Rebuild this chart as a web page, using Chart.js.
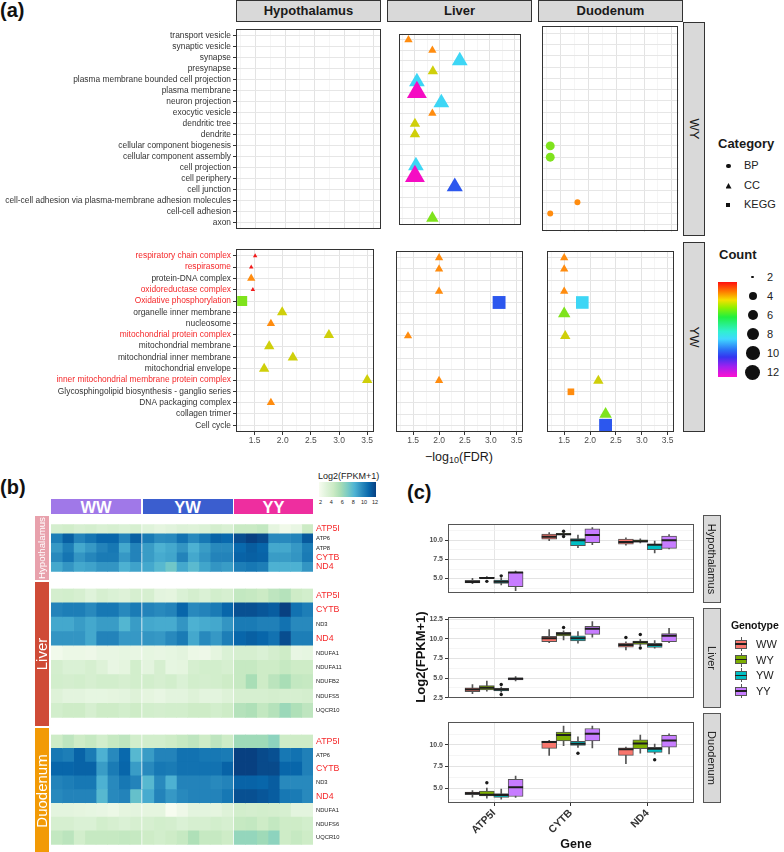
<!DOCTYPE html>
<html><head><meta charset="utf-8">
<script src="https://cdn.jsdelivr.net/npm/chart.js@4.4.1/dist/chart.umd.min.js"></script>
<style>
html,body{margin:0;padding:0;background:#fff;}
#root{position:relative;width:784px;height:852px;overflow:hidden;font-family:"Liberation Sans",Arial,Helvetica,sans-serif;color:#1a1a1a;}
</style></head><body><div id="root"></div>
<script>
// ================= DATA: panel (a) =================
const aTissues = ['Hypothalamus', 'Liver', 'Duodenum'];
const aRowsNames = ['WY', 'YW'];
const wyTerms = ['transport vesicle','synaptic vesicle','synapse','presynapse','plasma membrane bounded cell projection','plasma membrane','neuron projection','exocytic vesicle','dendritic tree','dendrite','cellular component biogenesis','cellular component assembly','cell projection','cell periphery','cell junction','cell-cell adhesion via plasma-membrane adhesion molecules','cell-cell adhesion','axon'];
const ywTerms = ['respiratory chain complex','respirasome','protein-DNA complex','oxidoreductase complex','Oxidative phosphorylation','organelle inner membrane','nucleosome','mitochondrial protein complex','mitochondrial membrane','mitochondrial inner membrane','mitochondrial envelope','inner mitochondrial membrane protein complex','Glycosphingolipid biosynthesis - ganglio series','DNA packaging complex','collagen trimer','Cell cycle'];
const redTerms = ['respiratory chain complex','respirasome','oxidoreductase complex','Oxidative phosphorylation','mitochondrial protein complex','inner mitochondrial membrane protein complex'];
// [term, -log10(FDR), Count, Category]
const wyHypothalamus = [];
const wyLiver = [
 ['transport vesicle',1.37,3,'CC'],['synaptic vesicle',1.85,3,'CC'],['synapse',2.40,8,'CC'],
 ['presynapse',1.86,5,'CC'],['plasma membrane bounded cell projection',1.54,8,'CC'],['plasma membrane',1.54,12,'CC'],
 ['neuron projection',2.03,8,'CC'],['exocytic vesicle',1.85,3,'CC'],['dendritic tree',1.50,5,'CC'],
 ['dendrite',1.50,5,'CC'],['cell projection',1.52,8,'CC'],['cell periphery',1.50,12,'CC'],
 ['cell junction',2.30,10,'CC'],['axon',1.85,6,'CC']
];
const wyDuodenum = [
 ['cellular component biogenesis',1.31,6,'BP'],['cellular component assembly',1.31,6,'BP'],
 ['cell-cell adhesion via plasma-membrane adhesion molecules',1.80,3,'BP'],['cell-cell adhesion',1.31,3,'BP']
];
const ywHypothalamus = [
 ['respiratory chain complex',1.51,2,'CC'],['respirasome',1.44,2,'CC'],['protein-DNA complex',1.44,3,'CC'],
 ['oxidoreductase complex',1.47,2,'CC'],['Oxidative phosphorylation',1.28,6,'KEGG'],['organelle inner membrane',1.99,5,'CC'],
 ['nucleosome',1.79,3,'CC'],['mitochondrial protein complex',2.82,5,'CC'],['mitochondrial membrane',1.76,5,'CC'],
 ['mitochondrial inner membrane',2.18,5,'CC'],['mitochondrial envelope',1.67,5,'CC'],
 ['inner mitochondrial membrane protein complex',3.50,5,'CC'],['DNA packaging complex',1.79,3,'CC']
];
const ywLiver = [
 ['respiratory chain complex',2.0,3,'CC'],['respirasome',2.0,3,'CC'],['oxidoreductase complex',2.0,3,'CC'],
 ['Oxidative phosphorylation',3.16,10,'KEGG'],['mitochondrial protein complex',1.40,3,'CC'],
 ['inner mitochondrial membrane protein complex',2.0,3,'CC']
];
const ywDuodenum = [
 ['respiratory chain complex',1.5,3,'CC'],['respirasome',1.5,3,'CC'],['oxidoreductase complex',1.5,3,'CC'],
 ['Oxidative phosphorylation',1.85,8,'KEGG'],['organelle inner membrane',1.5,6,'CC'],['mitochondrial protein complex',1.52,5,'CC'],
 ['inner mitochondrial membrane protein complex',2.16,5,'CC'],['Glycosphingolipid biosynthesis - ganglio series',1.63,3,'KEGG'],
 ['collagen trimer',2.30,6,'CC'],['Cell cycle',2.30,10,'KEGG']
];
const aXTicks = [1.25,1.5,1.75,2.0,2.25,2.5,2.75,3.0,3.25,3.5];
const countLegend = [2,4,6,8,10,12];

// ================= DATA: panel (b) heatmap =================
const hmGroups = ['WW','YW','YY'];
const hmGroupSizes = [8,8,7];
const redGenes = ['ATP5I','CYTB','ND4'];
const hypGenes = ['ATP5I','ATP6','ATP8','CYTB','ND4'];
const hypExpr = [
 [4.0,4.2,3.8,4.0,3.7,3.9,3.6,3.9, 3.3,3.0,3.2,3.5,3.4,3.6,4.0,3.7, 4.6,4.6,4.8,3.0,2.4,2.8,4.5],
 [10.0,11.0,9.8,10.3,10.8,10.8,9.8,11.0, 10.1,9.5,9.6,10.4,9.6,10.2,10.9,10.7, 11.6,12.0,11.7,9.6,9.6,9.8,11.2],
 [9.1,10.0,8.6,9.1,9.8,10.2,8.6,9.8, 9.0,8.3,8.6,9.2,8.3,9.0,9.6,9.6, 10.7,11.1,10.8,8.6,8.6,9.1,10.0],
 [9.6,10.3,9.2,9.7,10.1,10.1,9.1,9.8, 9.0,8.5,8.7,9.8,8.6,9.2,9.8,9.8, 10.9,11.0,10.9,9.0,9.0,9.2,10.1],
 [8.6,9.2,8.6,8.8,9.2,9.2,8.3,8.8, 8.6,8.0,7.3,8.6,7.9,8.7,9.2,9.0, 10.0,10.2,10.0,8.3,8.3,8.3,9.2]
];
const liverGenes = ['ATP5I','CYTB','ND3','ND4','NDUFA1','NDUFA11','NDUFB2','NDUFS5','UQCR10'];
const liverExpr = [
 [4.0,4.1,3.9,3.3,3.9,3.6,3.4,3.9, 3.9,3.1,3.0,3.6,4.0,3.6,4.1,3.9, 4.8,4.7,4.5,5.0,5.3,4.4,4.1],
 [9.8,10.0,10.0,9.6,10.2,10.2,9.6,10.1, 9.8,9.6,9.8,10.8,9.6,9.8,10.1,10.8, 11.5,11.5,11.3,11.1,12.0,10.4,10.0],
 [8.6,8.6,9.0,8.6,9.0,9.0,8.1,9.0, 8.6,8.5,8.5,9.2,8.3,8.5,8.6,9.2, 10.1,10.1,9.9,9.9,10.4,9.6,9.6],
 [9.2,9.2,9.2,8.6,9.8,9.8,9.1,9.1, 9.2,9.1,9.6,10.1,8.6,9.6,9.1,10.0, 10.8,11.0,10.8,10.4,11.6,10.0,10.0],
 [2.3,2.6,2.6,2.5,2.8,2.8,2.9,2.8, 2.9,2.8,2.9,3.1,2.6,2.5,3.0,3.6, 3.9,3.9,3.6,4.0,4.4,2.8,2.9],
 [4.0,3.6,3.6,3.9,3.4,2.8,3.0,4.1, 3.1,3.9,2.9,3.0,3.9,4.1,4.1,3.9, 4.7,4.7,4.4,4.4,4.7,4.4,4.4],
 [4.1,4.0,4.1,3.9,4.1,4.1,3.9,4.1, 4.1,3.9,4.1,3.6,4.1,4.0,4.1,4.4, 4.7,5.7,4.4,5.1,5.7,4.8,4.7],
 [3.4,3.1,3.1,2.9,2.9,3.0,3.1,3.4, 3.0,2.8,3.1,3.1,3.4,3.1,3.1,3.4, 3.9,3.9,3.9,4.0,3.9,3.9,4.0],
 [4.1,4.4,4.4,3.9,4.4,4.4,4.1,4.4, 4.1,4.0,4.1,4.1,4.4,4.4,4.1,4.4, 5.3,5.5,4.8,5.3,6.1,5.5,5.0]
];
const duoGenes = ['ATP5I','ATP6','CYTB','ND3','ND4','NDUFA1','NDUFS6','UQCR10'];
const duoExpr = [
 [4.4,5.0,4.4,4.7,4.1,4.7,5.0,4.1, 4.1,4.1,4.4,4.7,5.0,4.4,5.0,4.4, 6.0,6.0,6.0,6.5,4.4,4.4,4.4],
 [10.2,10.0,10.9,10.1,8.3,9.6,10.7,8.0, 9.0,9.8,9.8,10.4,10.4,10.2,10.2,10.1, 12.0,12.0,11.7,11.5,10.2,10.4,9.9],
 [10.8,10.8,10.9,10.9,9.0,10.1,10.8,9.0, 9.6,10.2,10.1,10.4,10.4,10.4,10.4,10.9, 12.0,12.0,11.7,11.7,10.8,10.8,9.9],
 [9.8,10.0,10.2,10.2,8.3,9.6,10.2,9.8, 8.0,9.6,8.3,9.8,9.8,9.8,9.6,9.8, 10.9,10.9,10.8,11.1,9.6,9.6,9.6],
 [9.6,9.8,9.8,9.8,8.0,9.6,9.8,7.6, 8.5,9.8,9.1,9.6,9.8,9.8,9.8,10.2, 11.5,11.5,11.3,11.1,10.2,10.1,9.6],
 [3.1,3.1,3.0,2.9,2.8,2.6,3.0,3.1, 3.0,3.0,2.0,2.5,3.1,3.1,3.0,3.4, 4.1,4.0,4.1,4.0,3.9,3.1,3.1],
 [3.9,3.9,3.6,3.6,4.1,3.9,3.6,3.9, 3.9,4.1,4.0,3.6,3.9,3.9,4.1,3.9, 4.7,4.8,4.4,4.8,4.4,4.4,4.1],
 [4.8,5.1,4.1,4.7,4.7,4.7,4.8,4.7, 4.4,4.1,4.4,4.7,5.5,4.7,4.7,4.4, 6.3,6.3,6.0,6.5,4.4,4.7,4.4]
];
const hmLegendTicks = [2,4,6,8,10,12];

// ================= DATA: panel (c) boxplots =================
const boxGenes = ['ATP5I','CYTB','ND4'];
const genotypes = ['WW','WY','YW','YY'];
// [min, q1, median, q3, max]; order: ATP5I WW,WY,YW,YY, CYTB WW..YY, ND4 WW..YY
const hypBox = [
 [4.32,4.42,4.56,4.77,5.01],[4.97,5.02,5.08,5.15,5.25],[4.15,4.35,4.59,4.80,5.08],[3.42,3.94,5.80,5.83,5.99],
 [9.97,10.17,10.48,10.83,11.03],[10.65,10.72,10.83,10.93,10.99],[9.04,9.31,10.03,10.24,10.72],[9.45,9.72,10.72,11.52,11.69],
 [9.38,9.52,9.79,10.17,10.34],[9.69,9.76,9.90,10.07,10.20],[8.35,8.79,9.45,9.52,9.93],[8.90,8.97,10.03,10.59,10.76]
];
const hypOut = [[0,1,4.63],[0,2,5.35],[1,1,11.20],[1,1,10.52]]; // [gene, genotype, value]
const liverBox = [
 [3.02,3.26,3.54,3.77,4.19],[3.33,3.49,3.77,4.05,4.63],[3.20,3.36,3.54,3.70,3.85],[4.63,4.77,4.91,5.04,5.19],
 [9.52,9.62,10.06,10.30,11.16],[9.86,10.37,10.65,10.81,11.00],[9.44,9.72,10.06,10.37,10.92],[10.20,10.55,11.27,11.58,12.20],
 [8.59,8.93,9.20,9.44,9.60],[9.10,9.27,9.55,9.72,9.90],[8.82,8.90,9.20,9.41,9.78],[9.52,9.62,10.37,10.65,11.33]
];
const liverOut = [[0,2,4.19],[0,2,2.92],[1,1,11.43],[2,0,10.16],[2,1,10.55],[2,1,8.82]];
const duoBox = [
 [3.98,4.26,4.43,4.57,4.74],[3.85,4.12,4.26,4.67,5.01],[3.74,3.95,4.23,4.39,4.91],[3.95,4.05,5.11,6.04,6.39],
 [8.79,9.59,10.34,10.44,10.52],[9.90,10.44,11.13,11.47,12.16],[9.70,9.93,10.13,10.41,10.93],[9.65,10.44,11.27,11.89,12.16],
 [7.84,8.79,9.48,9.65,9.75],[9.03,9.55,10.16,10.58,11.13],[8.97,9.13,9.55,9.72,10.10],[8.97,9.72,10.51,11.09,11.27]
];
const duoOut = [[0,1,5.63],[1,2,9.03],[2,2,8.28]];
const hypYTicks = [5, 7.5, 10];
const liverYTicks = [2.5, 5, 7.5, 10, 12.5];
const duoYTicks = [5, 7.5, 10];

// ================= STYLE =================
Chart.defaults.font.family = '"Liberation Sans", Arial, Helvetica, sans-serif';
const RED = '#f5282a';
const countColor = {2:'#f21b1b',3:'#ff8c0f',4:'#f0b400',5:'#cfcf0a',6:'#7fe31c',8:'#3dd6f5',10:'#2c57ee',12:'#f50cc3'};
const triR = {2:2.6,3:4.8,4:5.4,5:6.0,6:7.2,8:9.1,10:9.3,12:11.5};
const shapeOf = {BP:'circle', CC:'triangle', KEGG:'rect'};
function radiusOf(raw){ const r = triR[raw.count]; return raw.cat==='BP' ? r*0.62 : (raw.cat==='KEGG' ? r*0.98 : r); }
const gnbuStops = ['#f7fcf0','#e0f3db','#ccebc5','#a8ddb5','#7bccc4','#4eb3d3','#2b8cbe','#0868ac','#084081'];
function hex2rgb(h){ return [parseInt(h.substr(1,2),16),parseInt(h.substr(3,2),16),parseInt(h.substr(5,2),16)]; }
function gnbu(v){ let t = (v-2)/10*(gnbuStops.length-1); t = Math.max(0, Math.min(gnbuStops.length-1, t)); const i = Math.min(Math.floor(t), gnbuStops.length-2); const f = t-i; const a = hex2rgb(gnbuStops[i]), b = hex2rgb(gnbuStops[i+1]); return `rgb(${Math.round(a[0]+(b[0]-a[0])*f)},${Math.round(a[1]+(b[1]-a[1])*f)},${Math.round(a[2]+(b[2]-a[2])*f)})`; }
const genoColors = ['#F8766D','#7CAE00','#00BFC4','#C77CFF'];

const root = document.getElementById('root');
function div(style, html){ const d=document.createElement('div'); d.style.cssText='position:absolute;'+style; if(html!==undefined) d.innerHTML=html; root.appendChild(d); return d; }
function canvas(left, top, w, h){ const c=document.createElement('canvas'); c.width=w; c.height=h; c.style.cssText=`position:absolute;left:${left}px;top:${top}px;width:${w}px;height:${h}px;`; root.appendChild(c); return c; }
function rotText(cx, cy, text, deg, style){ const w=300; div(`left:${cx-w/2}px;top:${cy-10}px;width:${w}px;height:20px;line-height:20px;text-align:center;white-space:nowrap;transform:rotate(${deg}deg);${style}`, text); }

const panelBorder = { id:'panelBorder', afterDraw(chart, args, opts){ if(!opts || !opts.color) return; const a=chart.chartArea; const c=chart.ctx; c.save(); c.strokeStyle=opts.color; c.lineWidth=1; c.strokeRect(Math.round(a.left)+0.5, Math.round(a.top)+0.5, Math.round(a.right-a.left)-1, Math.round(a.bottom-a.top)-1); c.restore(); } };
const base = { responsive:false, animation:false, devicePixelRatio:1, layout:{padding:0}, events:[] };
const isHalf = v => Math.abs(v*2-Math.round(v*2)) < 1e-6;

// ================= PANEL (a) =================
const aCols = [{left:0,w:381,yw:236,area:236},{left:387,w:145,yw:0,area:387},{left:538,w:145,yw:0,area:538}];
const aRows = [{top:22,h:214,terms:wyTerms,data:[wyHypothalamus,wyLiver,wyDuodenum],showX:false},
               {top:242,h:190,terms:ywTerms,data:[ywHypothalamus,ywLiver,ywDuodenum],showX:true}];
aRows.forEach(row => {
  aCols.forEach((col, ci) => {
    const showY = ci===0, showX = row.showX, terms = row.terms;
    const cv = canvas(col.left, row.top, col.w, row.h + (showX?16:0));
    new Chart(cv, { type:'scatter',
      data:{ datasets:[{ data: row.data[ci].map(p => ({x:p[1], y:terms.indexOf(p[0]), count:p[2], cat:p[3]})),
        pointStyle: c => c.raw ? shapeOf[c.raw.cat] : 'circle',
        radius: c => c.raw ? radiusOf(c.raw) : 3,
        backgroundColor: c => c.raw ? countColor[c.raw.count] : '#000',
        borderWidth:0, clip:false }]},
      options: Object.assign({}, base, {
        plugins:{ legend:{display:false}, tooltip:{enabled:false}, panelBorder:{color:'#333'} },
        scales:{
          x:{ type:'linear', min:1.17, max:3.62,
              afterBuildTicks: s => { s.ticks = aXTicks.map(v => ({value:v})); },
              ticks:{ display:showX, autoSkip:false, maxRotation:0, padding:1, color:'#4d4d4d', font:{size:8.5}, callback: v => isHalf(v) ? v.toFixed(1) : '' },
              grid:{ color: c => (c.tick && isHalf(c.tick.value)) ? '#e3e3e3' : '#f0f0f0', lineWidth: c => (c.tick && isHalf(c.tick.value)) ? 1 : 0.7, drawTicks:showX, tickLength:3, tickColor: c => (c.tick && isHalf(c.tick.value)) ? '#333' : 'rgba(0,0,0,0)' },
              border:{display:false},
              afterFit: s => { s.height = showX ? 16 : 0; } },
          y:{ type:'linear', reverse:true, min:-0.6, max:terms.length-1+0.6,
              afterBuildTicks: s => { s.ticks = terms.map((t,i) => ({value:i})); },
              ticks:{ display:showY, autoSkip:false, padding:2, font:{size:8.4}, callback: v => terms[v],
                      color: c => (c.tick && redTerms.includes(terms[c.tick.value])) ? RED : '#333' },
              grid:{ color:'#e6e6e6', lineWidth:1, drawTicks:showY, tickLength:3, tickColor:'#333' },
              border:{display:false},
              afterFit: s => { s.width = showY ? col.yw : 0; } }
        }
      }),
      plugins:[panelBorder] });
  });
});
// strips (a)
aTissues.forEach((t,i) => div(`left:${aCols[i].area}px;top:0px;width:145px;height:22px;background:#d9d9d9;border:1px solid #333;box-sizing:border-box;text-align:center;line-height:20px;font-size:13px;font-weight:bold;color:#1a1a1a;`, t));
aRows.forEach((r,i) => { div(`left:683px;top:${r.top}px;width:22px;height:${r.h}px;background:#d9d9d9;border:1px solid #333;box-sizing:border-box;`); rotText(694, r.top + r.h/2, aRowsNames[i], 90, 'font-size:13px;color:#1a1a1a;'); });
div('left:0px;top:-1px;font-size:20px;font-weight:bold;color:#111;', '(a)');
div('left:359px;top:450px;width:200px;text-align:center;font-size:12.5px;color:#1a1a1a;', '&minus;log<sub style="font-size:9px;vertical-align:-2px;">10</sub>(FDR)');
// Category legend
div('left:718px;top:136px;font-size:13px;font-weight:bold;', 'Category');
div('left:726px;top:163.8px;width:4.5px;height:4.5px;border-radius:50%;background:#111;');
div('left:725.5px;top:183px;width:6px;height:5.5px;background:#111;clip-path:polygon(50% 0,100% 100%,0 100%);');
div('left:726.2px;top:203px;width:4.3px;height:4.3px;background:#111;');
['BP','CC','KEGG'].forEach((t,i) => div(`left:744px;top:${159+i*19.5}px;font-size:11px;color:#222;`, t));
// Count legend
div('left:719px;top:247px;font-size:13px;font-weight:bold;', 'Count');
div('left:717.7px;top:281.7px;width:19px;height:95px;background:linear-gradient(to bottom,#ff1010 0%,#ff7a00 10%,#f5e000 19%,#90f000 27%,#20f040 37%,#30f0d0 52%,#40d8ff 60%,#2a6cf5 72%,#3535f0 79%,#a020f0 89%,#ff10d0 100%);');
const dotD = {2:2.7,4:8.3,6:10,8:12,10:13.7,12:15};
countLegend.forEach((c,i) => { const y = 277 + i*19, d = dotD[c]; div(`left:${752.7-d/2}px;top:${y-d/2}px;width:${d}px;height:${d}px;border-radius:50%;background:#111;`); div(`left:767px;top:${y-7}px;font-size:11px;color:#222;line-height:14px;`, String(c)); });

// ================= PANEL (b) heatmap =================
div('left:0px;top:476px;font-size:20px;font-weight:bold;color:#111;', '(b)');
const G = 0.13;
const groupOf = c => c < hmGroupSizes[0] ? 0 : (c < hmGroupSizes[0]+hmGroupSizes[1] ? 1 : 2);
const nCols = hmGroupSizes.reduce((a,b)=>a+b,0);
const hmLeft = 51, hmW = 262, pxU = hmW/(nCols+2*G);
function heat(top, h, genes, expr){
  const cv = canvas(hmLeft, top, hmW+40, h);
  const datasets = [];
  for (let c=0;c<nCols;c++){ const x0 = c + groupOf(c)*G;
    datasets.push({ data: genes.map(() => [x0, x0+1]), backgroundColor: genes.map((g,r) => gnbu(expr[r][c])), borderWidth:0, barPercentage:1, categoryPercentage:1, grouped:false }); }
  new Chart(cv, { type:'bar', data:{ labels:genes, datasets },
    options: Object.assign({}, base, { indexAxis:'y', plugins:{legend:{display:false}, tooltip:{enabled:false}},
      scales:{ x:{ type:'linear', min:0, max:nCols+2*G, display:false },
               y:{ type:'category', position:'right', grid:{display:false, drawTicks:false}, border:{display:false},
                   ticks:{ autoSkip:false, padding:3, color: c => redGenes.includes(genes[c.index]) ? RED : '#222', font: c => redGenes.includes(genes[c.index]) ? {size:8.8} : {size:5.8} },
                   afterFit: s => { s.width = 40; } } } }) });
}
heat(516, 64, hypGenes, hypExpr);
heat(582, 144, liverGenes, liverExpr);
heat(728, 125, duoGenes, duoExpr);
// top annotation
const grpColors = ['#a078e8','#3b5ecf','#ee2e9f'];
let cstart = 0;
hmGroups.forEach((g,i) => { const x0 = hmLeft + (cstart + i*G)*pxU, x1 = hmLeft + (cstart + hmGroupSizes[i] + i*G)*pxU; cstart += hmGroupSizes[i];
  div(`left:${x0}px;top:499px;width:${x1-x0}px;height:15px;background:${grpColors[i]};color:#fff;font-weight:bold;font-size:16.5px;text-align:center;line-height:16px;`, g); });
// left annotation
[['Hypothalamus',516,64,'#e8a1ac',9.7],['Liver',582,144,'#cf4b37',15],['Duodenum',728,125,'#f29a05',15]].forEach(a => {
  div(`left:35px;top:${a[1]}px;width:14px;height:${a[2]}px;background:${a[3]};`);
  rotText(42, a[1]+a[2]/2, a[0], -90, `font-size:${a[4]}px;color:#fff;`);
});
// heatmap legend
div('left:318px;top:471px;font-size:9px;color:#222;', 'Log2(FPKM+1)');
div(`left:319.3px;top:482px;width:56.7px;height:14.5px;background:linear-gradient(to right,${gnbuStops.join(',')});`);
hmLegendTicks.forEach((t,i) => div(`left:${320.5 + i*10.9 - 5}px;top:499px;width:10px;text-align:center;font-size:5.5px;color:#222;`, String(t)));

// ================= PANEL (c) boxplots =================
div('left:407px;top:481px;font-size:20px;font-weight:bold;color:#111;', '(c)');
const offs = [-0.28125,-0.09375,0.09375,0.28125];
const cPanels = [
  {top:515,h:88,min:3.03,max:12.10,stats:hypBox,outs:hypOut,name:'Hypothalamus',major:hypYTicks,showX:false},
  {top:608,h:100,min:2.40,max:12.71,stats:liverBox,outs:liverOut,name:'Liver',major:liverYTicks,showX:false},
  {top:713,h:90,min:3.30,max:12.58,stats:duoBox,outs:duoOut,name:'Duodenum',major:duoYTicks,showX:true}];
const cPlotW = 255, boxPx = 0.1875*cPlotW/3.2;
cPanels.forEach(p => {
  const cv = canvas(400, p.top, 48+cPlotW, p.h + (p.showX?46:0));
  const xs = (i) => Math.floor(i/4)+1+offs[i%4];
  const minor = p.major.slice(0,-1).map(v => v+1.25).concat([p.major[0]-1.25, p.major[p.major.length-1]+1.25]).filter(v => v>p.min && v<p.max);
  const yT = p.major.concat(minor).sort((a,b)=>a-b);
  const isMaj = v => p.major.some(m => Math.abs(m-v) < 1e-6);
  new Chart(cv, { type:'bar',
    data:{ datasets:[
      { type:'bar', data:p.stats.map((s,i)=>({x:xs(i), y:[s[0],s[4]]})), backgroundColor:'#555', barThickness:1, grouped:false, order:4 },
      { type:'bar', data:p.stats.map((s,i)=>({x:xs(i), y:[s[1],s[3]]})), backgroundColor:p.stats.map((s,i)=>genoColors[i%4]), borderColor:'#555', borderWidth:1, borderSkipped:false, barThickness:boxPx, grouped:false, order:3 },
      { type:'scatter', data:p.stats.map((s,i)=>({x:xs(i), y:s[2]})), pointStyle:'line', radius:boxPx/2, borderColor:'#1f1f1f', borderWidth:2, order:2 },
      { type:'scatter', data:p.outs.map(o=>({x:o[0]+1+offs[o[1]], y:o[2]})), pointStyle:'circle', radius:1.7, backgroundColor:'#1a1a1a', borderWidth:0, order:1 }
    ]},
    options: Object.assign({}, base, { plugins:{legend:{display:false}, tooltip:{enabled:false}, panelBorder:{color:'#555'}},
      scales:{
        x:{ type:'linear', min:0.4, max:3.6, offset:false,
            afterBuildTicks: s => { s.ticks = boxGenes.map((g,i)=>({value:i+1})); },
            ticks:{ display:p.showX, autoSkip:false, minRotation:45, maxRotation:45, padding:1, color:'#333', font:{size:10.5, weight:'bold'}, callback: v => boxGenes[v-1] },
            grid:{ color:'#e6e6e6', lineWidth:1, offset:false, drawTicks:p.showX, tickLength:3, tickColor:'#333' },
            border:{display:false}, afterFit: s => { s.height = p.showX ? 46 : 0; } },
        y:{ type:'linear', min:p.min, max:p.max,
            afterBuildTicks: s => { s.ticks = yT.map(v=>({value:v})); },
            ticks:{ autoSkip:false, padding:2, color:'#4d4d4d', font:{size:7, weight:'bold'}, callback: v => isMaj(v) ? v.toFixed(1) : '' },
            grid:{ color: c => (c.tick && isMaj(c.tick.value)) ? '#e3e3e3' : '#f0f0f0', lineWidth: c => (c.tick && isMaj(c.tick.value)) ? 1 : 0.7, tickLength:3, tickColor: c => (c.tick && isMaj(c.tick.value)) ? '#333' : 'rgba(0,0,0,0)' },
            border:{display:false}, afterFit: s => { s.width = 48; } }
      } }),
    plugins:[panelBorder] });
  div(`left:703px;top:${p.top}px;width:18px;height:${p.h}px;background:#d9d9d9;border:1px solid #555;box-sizing:border-box;`);
  rotText(712, p.top + p.h/2, p.name, 90, 'font-size:11px;color:#1a1a1a;');
});
rotText(421, 657, 'Log2(FPKM+1)', -90, 'font-size:13px;font-weight:bold;color:#111;');
div('left:526px;top:836px;width:100px;text-align:center;font-size:12.5px;font-weight:bold;color:#111;line-height:16px;', 'Gene');
// genotype legend
div('left:731px;top:619px;font-size:10.5px;font-weight:bold;color:#111;white-space:nowrap;letter-spacing:-0.1px;', 'Genotype');
genotypes.forEach((g,i) => { const cy = 644 + i*15.7;
  div(`left:740.5px;top:${cy-7}px;width:1px;height:14px;background:#555;`);
  div(`left:735px;top:${cy-4.5}px;width:12px;height:9px;background:${genoColors[i]};border:1px solid #555;box-sizing:border-box;`);
  div(`left:735px;top:${cy-0.8}px;width:12px;height:1.6px;background:#1f1f1f;`);
  div(`left:756px;top:${cy-7}px;font-size:11px;color:#222;line-height:14px;`, g);
});
</script></body></html>
